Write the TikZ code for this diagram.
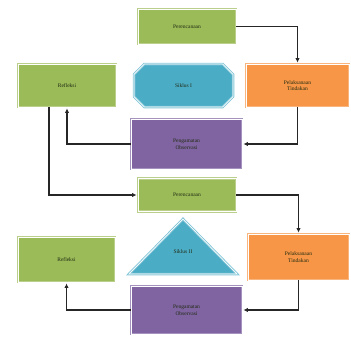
\documentclass[tikz,border=0pt]{standalone}
\usepackage{fontspec}
\setmainfont{Liberation Serif}
\usetikzlibrary{arrows.meta,shapes.misc}
\definecolor{cgreen}{HTML}{9BBB59}
\definecolor{corange}{HTML}{F79646}
\definecolor{cpurple}{HTML}{8064A2}
\definecolor{cblue}{HTML}{4BACC6}
\definecolor{ctext}{HTML}{1F2A10}
\begin{document}
\begin{tikzpicture}[x=1pt,y=-1pt,
  box/.style={draw=#1!70!white, line width=0.9pt, double=white, double distance=0.7pt, fill=#1, rectangle, inner sep=0pt, align=center, font=\fontsize{5.5}{6.5}\selectfont, text=ctext},
  conn/.style={draw=black!85, line width=1.2pt, -{Latex[length=4.5pt,width=4.5pt]}, shorten >=1pt},
]
\useasboundingbox (0,0) rectangle (351,338);
% boxes
\node[box=cgreen, minimum width=98pt, minimum height=35pt] (p1) at (187,26.5) {Perencanaan};
\node[box=cgreen, minimum width=98pt, minimum height=43pt] (r1) at (67,85.5) {Refleksi};
\node[box=corange, minimum width=103pt, minimum height=43pt] (t1) at (297.5,85.5) {Pelaksanaan\\Tindakan};
\node[box=cpurple, minimum width=111pt, minimum height=50pt] (o1) at (186.5,144) {Pengamatan\\Observasi};
\node[draw=cblue!70!white, line width=0.9pt, double=white, double distance=0.7pt, fill=cblue, chamfered rectangle, chamfered rectangle xsep=11pt, chamfered rectangle ysep=11pt, minimum width=99pt, minimum height=43pt, inner sep=0pt, font=\fontsize{5.5}{6.5}\selectfont, text=ctext] (s1) at (183.5,85.5) {Siklus I};
\node[box=cgreen, minimum width=98pt, minimum height=33pt] (p2) at (187,195) {Perencanaan};
\node[box=cgreen, minimum width=97pt, minimum height=45pt] (r2) at (66.5,259.5) {Refleksi};
\node[box=corange, minimum width=101pt, minimum height=46pt] (t2) at (298.5,257) {Pelaksanaan\\Tindakan};
\node[box=cpurple, minimum width=111pt, minimum height=48pt] (o2) at (186.5,310) {Pengamatan\\Observasi};
% triangle
\draw[draw=cblue!70!white, line width=0.9pt, double=white, double distance=0.7pt, fill=cblue] (183,219) -- (237,274) -- (129,274) -- cycle;
\node[font=\fontsize{5.5}{6.5}\selectfont, text=ctext] (s2) at (183,252) {Siklus II};
% connectors
\draw[conn] (p1.east) -| (t1.north);
\draw[conn] (t1.south) |- (o1.east);
\draw[conn] (o1.west) -| (r1.south);
\draw[conn] (r1.south -| 49,0) |- (p2.west);
\draw[conn] (p2.east) -| (t2.north);
\draw[conn] (t2.south) |- (o2.east);
\draw[conn] (o2.west) -| (r2.south);
\end{tikzpicture}
\end{document}
